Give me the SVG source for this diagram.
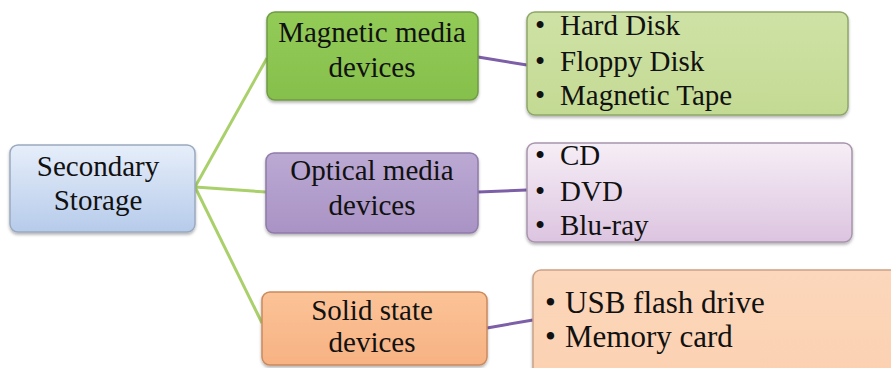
<svg xmlns="http://www.w3.org/2000/svg" width="891" height="368" viewBox="0 0 891 368">
<defs>
<style>
.t{font-family:"Liberation Serif","Times New Roman",serif;font-size:29px;fill:#111111}
.c{text-anchor:middle}
.big{font-size:31px}
.box{stroke-width:1.5}
.g{stroke:#a9d06a;stroke-width:3;fill:none}
.p{stroke:#7d5fa8;stroke-width:3;fill:none}
</style>
<linearGradient id="gBlue" x1="0" y1="0" x2="0" y2="1"><stop offset="0" stop-color="#e6eefa"/><stop offset="1" stop-color="#b6cbea"/></linearGradient>
<linearGradient id="gGreen" x1="0" y1="0" x2="0" y2="1"><stop offset="0" stop-color="#93cb57"/><stop offset="1" stop-color="#86c04c"/></linearGradient>
<linearGradient id="gLGreen" x1="0" y1="0" x2="0" y2="1"><stop offset="0" stop-color="#cfe2a6"/><stop offset="1" stop-color="#c3da93"/></linearGradient>
<linearGradient id="gPurple" x1="0" y1="0" x2="0" y2="1"><stop offset="0" stop-color="#bba9d3"/><stop offset="1" stop-color="#a993c5"/></linearGradient>
<linearGradient id="gLPurple" x1="0" y1="0" x2="0" y2="1"><stop offset="0" stop-color="#f6eef6"/><stop offset="1" stop-color="#dcc4e0"/></linearGradient>
<linearGradient id="gOrange" x1="0" y1="0" x2="0" y2="1"><stop offset="0" stop-color="#fbc397"/><stop offset="1" stop-color="#f7b283"/></linearGradient>
<linearGradient id="gPeach" x1="0" y1="0" x2="0" y2="1"><stop offset="0" stop-color="#fcd7bb"/><stop offset="1" stop-color="#fbd0b0"/></linearGradient>
<filter id="sh" x="-10%" y="-10%" width="120%" height="130%"><feDropShadow dx="0" dy="2" stdDeviation="1.5" flood-color="#000" flood-opacity="0.3"/></filter>
</defs>
<rect width="891" height="368" fill="#ffffff"/>
<g id="connectors">
<line class="g" x1="195" y1="187" x2="267" y2="58"/>
<line class="g" x1="195" y1="187" x2="266" y2="192"/>
<line class="g" x1="195" y1="187" x2="262" y2="323"/>
<line class="p" x1="478" y1="57" x2="527" y2="65"/>
<line class="p" x1="478" y1="192" x2="527" y2="190"/>
<line class="p" x1="487" y1="328" x2="533" y2="320"/>
</g>
<g id="secondary">
<rect class="box" x="10" y="145" width="185" height="87" rx="8" fill="url(#gBlue)" stroke="#9aa9c0" filter="url(#sh)"/>
<text class="t c" x="98" y="176">Secondary</text>
<text class="t c" x="98" y="210">Storage</text>
</g>
<g id="magnetic">
<rect class="box" x="267" y="12" width="211" height="88" rx="8" fill="url(#gGreen)" stroke="#6f9b44" filter="url(#sh)"/>
<text class="t c" x="372" y="42">Magnetic media</text>
<text class="t c" x="372" y="77">devices</text>
</g>
<g id="optical">
<rect class="box" x="266" y="153" width="212" height="80" rx="8" fill="url(#gPurple)" stroke="#8f7ba8" filter="url(#sh)"/>
<text class="t c" x="372" y="180">Optical media</text>
<text class="t c" x="372" y="215">devices</text>
</g>
<g id="solid">
<rect class="box" x="262" y="292" width="225" height="73" rx="8" fill="url(#gOrange)" stroke="#c98a5e" filter="url(#sh)"/>
<text class="t c" x="372" y="320">Solid state</text>
<text class="t c" x="372" y="352">devices</text>
</g>
<g id="magnetic-list">
<rect class="box" x="527" y="12" width="321" height="103" rx="8" fill="url(#gLGreen)" stroke="#8ea66a" filter="url(#sh)"/>
<text class="t" x="535" y="35">•</text><text class="t" x="560" y="35">Hard Disk</text>
<text class="t" x="535" y="71">•</text><text class="t" x="560" y="71">Floppy Disk</text>
<text class="t" x="535" y="105">•</text><text class="t" x="560" y="105">Magnetic Tape</text>
</g>
<g id="optical-list">
<rect class="box" x="527" y="143" width="325" height="99" rx="8" fill="url(#gLPurple)" stroke="#a895ad" filter="url(#sh)"/>
<text class="t" x="535" y="165">•</text><text class="t" x="560" y="165">CD</text>
<text class="t" x="535" y="201">•</text><text class="t" x="560" y="201">DVD</text>
<text class="t" x="535" y="235">•</text><text class="t" x="560" y="235">Blu-ray</text>
</g>
<g id="solid-list">
<rect class="box" x="533" y="270" width="380" height="120" rx="8" fill="url(#gPeach)" stroke="#c9a388" filter="url(#sh)"/>
<text class="t big" x="545" y="313">•</text><text class="t big" x="565" y="313">USB flash drive</text>
<text class="t big" x="545" y="347">•</text><text class="t big" x="565" y="347">Memory card</text>
</g>
</svg>
